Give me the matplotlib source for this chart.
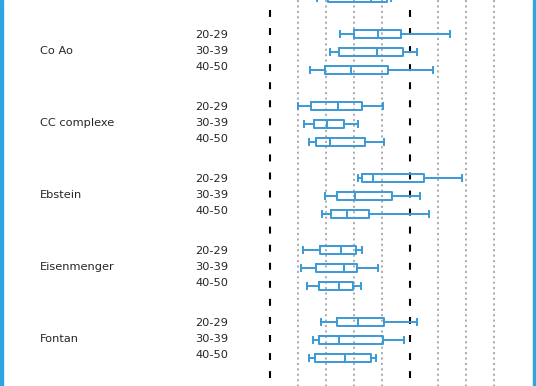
import matplotlib.pyplot as plt
from matplotlib.patches import Rectangle
from matplotlib.transforms import blended_transform_factory

groups = ["Co Ao", "CC complexe", "Ebstein", "Eisenmenger", "Fontan"]
ages = ["20-29", "30-39", "40-50"]

# five numbers per box: whisker low, q1, median, q3, whisker high
whislo = [[2.50, 2.14, 1.43], [0.99, 1.23, 1.40], [3.13, 1.98, 1.85],
          [1.19, 1.10, 1.31], [1.81, 1.55, 1.40]]
q1 = [[3.01, 2.48, 1.96], [1.45, 1.58, 1.64], [3.27, 2.38, 2.17],
      [1.79, 1.64, 1.74], [2.38, 1.74, 1.62]]
med = [[3.85, 3.83, 2.88], [2.42, 2.02, 2.14], [3.69, 3.04, 2.74],
       [2.54, 2.63, 2.48], [3.15, 2.48, 2.68]]
q3 = [[4.67, 4.74, 4.20], [3.27, 2.63, 3.40], [5.51, 4.37, 3.52],
      [3.06, 3.12, 2.98], [4.08, 4.05, 3.60]]
whishi = [[6.44, 5.26, 5.83], [4.05, 3.15, 4.06], [6.86, 5.36, 5.68],
          [3.29, 3.87, 3.24], [5.24, 4.80, 3.77]]

# last box of the group above, cut off by the top edge
prev_box = [1.68, 2.07, 3.61, 4.18, 4.32]

ref_lines = [0, 5]
grid_lines = [1, 2, 3, 4, 6, 7, 8]

blue = "#3b9ad6"
plt.rcParams["lines.scale_dashes"] = False

fig = plt.figure(figsize=(5.36, 3.86), dpi=100)
ax = fig.add_axes([0, 0, 1, 1])
ax.set_xlim(-270 / 28, 266 / 28)
ax.set_ylim(352 / 18, -34 / 18)
ax.axis("off")

ytop, ybot = -34 / 18, 352 / 18
for x in grid_lines:
    ax.plot([x, x], [ytop, ybot], color="#a6a6a6", lw=1.3,
            linestyle=(0, (1.5, 2.4)), zorder=1)
for x in ref_lines:
    ax.plot([x, x], [ytop, ybot], color="black", lw=1.5,
            linestyle=(5.8, (5.0, 8.0)), zorder=1)

stats = [dict(whislo=prev_box[0], q1=prev_box[1], med=prev_box[2],
              q3=prev_box[3], whishi=prev_box[4], fliers=[])]
pos = [-2]
for g in range(len(groups)):
    for a in range(len(ages)):
        stats.append(dict(whislo=whislo[g][a], q1=q1[g][a], med=med[g][a],
                          q3=q3[g][a], whishi=whishi[g][a], fliers=[]))
        pos.append(4 * g + a)

lp = dict(color=blue, linewidth=1.4)
ax.bxp(stats, positions=pos, orientation="horizontal", widths=0.46,
       capwidths=0.36, showfliers=False, boxprops=lp, medianprops=lp,
       whiskerprops=lp, capprops=lp, manage_ticks=False, zorder=3)

tr = blended_transform_factory(fig.transFigure, ax.transData)
for g, name in enumerate(groups):
    base = 4 * g
    ax.text(40 / 536, base + 0.875 + 0.24, name, transform=tr,
            fontsize=8.2, color="#262626", va="baseline", ha="left")
    for a, lab in enumerate(ages):
        ax.text(195 / 536, base + 0.875 * a + 0.24, lab, transform=tr,
                fontsize=8.2, color="#262626", va="baseline", ha="left")

# blue frame edges
fig.patches.append(Rectangle((0, 0), 2.5 / 536, 1, transform=fig.transFigure,
                             color="#2ba6e2", zorder=5))
fig.patches.append(Rectangle((533.3 / 536, 0), 2.7 / 536, 1,
                             transform=fig.transFigure, color="#2ba6e2",
                             zorder=5))

fig.savefig("out.png", dpi=100)
